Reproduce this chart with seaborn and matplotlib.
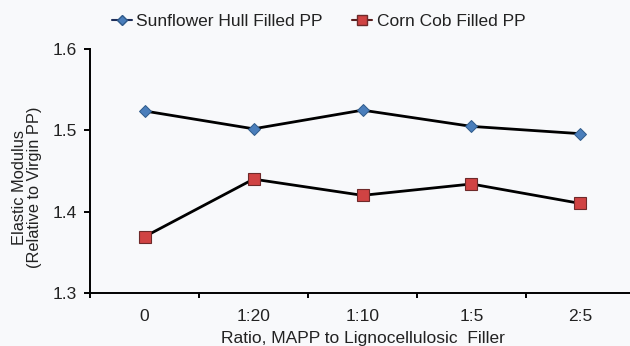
import matplotlib
matplotlib.use("Agg")
import matplotlib.pyplot as plt
import seaborn as sns
import pandas as pd
import numpy as np
from matplotlib.lines import Line2D

ratios = ["0", "1:20", "1:10", "1:5", "2:5"]
sunflower = [1.524, 1.502, 1.525, 1.505, 1.496]
corn_cob = [1.369, 1.440, 1.420, 1.434, 1.410]
yticks = [1.3, 1.4, 1.5, 1.6]

sns.set_style("white")
plt.rcParams["font.family"] = ["Liberation Sans", "DejaVu Sans"]

FS = 12.5
bg = "#f8f9fb"
blue = "#4a7ebb"
blue_edge = "#2f5a8a"
red = "#d04343"
red_edge = "#6e2a2a"

fig = plt.figure(figsize=(6.3, 3.46), dpi=100, facecolor=bg)
ax = fig.add_axes([0.1429, 0.154, 0.865, 0.7035], facecolor=bg)

df = pd.DataFrame({"ratio": ratios, "sun": sunflower, "corn": corn_cob})

sns.lineplot(data=df, x="ratio", y="sun", ax=ax, color="black", lw=2.0,
             marker="D", markersize=6, markerfacecolor=blue,
             markeredgecolor=blue_edge, markeredgewidth=0.7, sort=False)
sns.lineplot(data=df, x="ratio", y="corn", ax=ax, color="black", lw=2.0,
             marker="s", markersize=8, markerfacecolor=red,
             markeredgecolor=red_edge, markeredgewidth=0.8, sort=False)

ax.set_xlim(-0.5, len(ratios) - 0.5)
ax.set_ylim(1.3, 1.6)
ax.set_yticks(yticks)
ax.set_yticklabels([f"{v:.1f}" for v in yticks])
ax.set_xticks(range(len(ratios)))
ax.set_xticklabels(ratios)
ax.set_xticks(np.arange(-0.5, len(ratios)), minor=True)
ax.tick_params(axis="x", which="major", length=0, pad=11.5, labelsize=FS, labelcolor="#222222")
ax.tick_params(axis="x", which="minor", length=3.8, width=1.4, direction="out", color="black")
ax.tick_params(axis="y", length=4.5, width=1.4, direction="out", labelsize=FS, pad=5,
               color="black", labelcolor="#222222")
ax.yaxis.set_ticks_position("left")
ax.xaxis.set_ticks_position("bottom")

for s in ["top", "right"]:
    ax.spines[s].set_visible(False)
for s in ["left", "bottom"]:
    ax.spines[s].set_color("black")
    ax.spines[s].set_linewidth(1.4)

ax.set_xlabel("Ratio, MAPP to Lignocellulosic  Filler", fontsize=FS, labelpad=5.0, color="#222222")
ax.set_ylabel("Elastic Modulus\n(Relative to Virgin PP)", fontsize=11.8, color="#222222",
              linespacing=1.0)
ax.yaxis.set_label_coords(-0.088, 0.432)

handles = [
    Line2D([], [], color="#1f2f5a", lw=1.5, marker="D", markersize=5,
           markerfacecolor=blue, markeredgecolor=blue_edge),
    Line2D([], [], color="#5a1f1f", lw=1.5, marker="s", markersize=6.5,
           markerfacecolor=red, markeredgecolor=red_edge),
]
fig.legend(handles, ["Sunflower Hull Filled PP", "Corn Cob Filled PP"],
           loc="center", bbox_to_anchor=(0.5056, 0.937), ncol=2, frameon=False,
           fontsize=FS, handlelength=1.15, handletextpad=0.25, columnspacing=1.7,
           labelcolor="#222222")

fig.savefig("out.png", dpi=100, facecolor=bg)
